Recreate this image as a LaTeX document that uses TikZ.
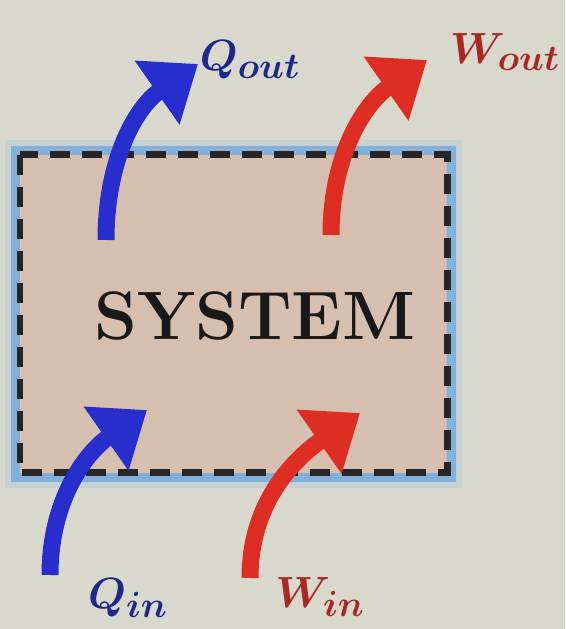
\documentclass[tikz,border=0pt]{standalone}
\usepackage{amsmath,amssymb}
\usepackage{tikz}
\usetikzlibrary{arrows.meta}
\definecolor{bgtone}{RGB}{216,217,204}
\definecolor{sysfill}{RGB}{215,191,175}
\definecolor{glowblue}{RGB}{110,165,220}
\definecolor{heatblue}{RGB}{40,45,205}
\definecolor{workred}{RGB}{222,45,35}
\definecolor{heatlabel}{RGB}{30,40,140}
\definecolor{worklabel}{RGB}{170,40,35}

\begin{document}
\begin{tikzpicture}[x=0.02cm, y=0.02cm,
  flow/.style={line width=0.34cm, -{Triangle[length=1cm,width=1.5cm]}},
  lbl/.style={font=\fontsize{30}{32}\selectfont\boldmath, inner sep=0pt}]
	\useasboundingbox (0,0) rectangle (565,629);
	\fill[bgtone] (0,0) rectangle (565,629);
	\draw[glowblue!70, line width=0.6cm, opacity=0.3] (20,474) rectangle (447,156);
	\draw[glowblue, line width=0.36cm, opacity=0.75] (20,474) rectangle (447,156);
	\fill[sysfill] (20,474) rectangle (447,156);
	\draw[black!85, line width=0.14cm, dash pattern=on 0.4cm off 0.24cm] (20,474) rectangle (447,156);
	\node[font=\fontsize{39}{41}\selectfont\bfseries, text=black!90] (sys) at (255,313) {SYSTEM};
	\coordinate (qo-s) at (106,389);
	\coordinate (qo-e) at (198,565);
	\coordinate (wo-s) at (331,394);
	\coordinate (wo-e) at (427,569);
	\coordinate (qi-s) at (50,54);
	\coordinate (qi-e) at (147,219);
	\coordinate (wi-s) at (250,51);
	\coordinate (wi-e) at (360,216);
	\draw[flow, heatblue] (qo-s) to[out=90, in=215] (qo-e);
	\draw[flow, workred] (wo-s) to[out=90, in=215] (wo-e);
	\draw[flow, heatblue] (qi-s) to[out=90, in=215] (qi-e);
	\draw[flow, workred] (wi-s) to[out=90, in=215] (wi-e);
	\node[lbl, text=heatlabel] (qout) at (250,569) {$Q_{out}$};
	\node[lbl, text=worklabel] (wout) at (505,577) {$W_{out}$};
	\node[lbl, text=heatlabel] (qin) at (128,31) {$Q_{in}$};
	\node[lbl, text=worklabel] (win) at (320,32) {$W_{in}$};
\end{tikzpicture}
\end{document}
